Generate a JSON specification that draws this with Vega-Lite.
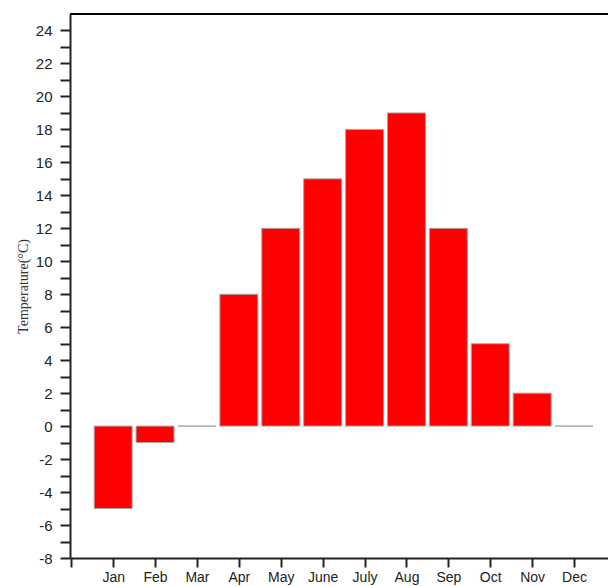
{
  "$schema": "https://vega.github.io/schema/vega-lite/v6.json",
  "width": 538,
  "height": 544,
  "autosize": {"type": "none"},
  "padding": {"left": 70, "top": 14, "right": 0, "bottom": 28},
  "background": "white",
  "config": {"view": {"stroke": null}, "font": "Liberation Sans"},
  "data": {"values": [
    {"m": 1, "name": "Jan", "t": -5},
    {"m": 2, "name": "Feb", "t": -1},
    {"m": 3, "name": "Mar", "t": 0},
    {"m": 4, "name": "Apr", "t": 8},
    {"m": 5, "name": "May", "t": 12},
    {"m": 6, "name": "June", "t": 15},
    {"m": 7, "name": "July", "t": 18},
    {"m": 8, "name": "Aug", "t": 19},
    {"m": 9, "name": "Sep", "t": 12},
    {"m": 10, "name": "Oct", "t": 5},
    {"m": 11, "name": "Nov", "t": 2},
    {"m": 12, "name": "Dec", "t": 0}
  ]},
  "layer": [
    {
      "mark": {"type": "bar", "width": 38, "color": "#ff0000", "stroke": "#a8a8a8", "strokeWidth": 1},
      "encoding": {
        "x": {
          "field": "m", "type": "quantitative",
          "scale": {"domain": [-0.03, 12.81], "nice": false, "zero": false, "padding": 0},
          "axis": {
            "values": [0, 1, 2, 3, 4, 5, 6, 7, 8, 9, 10, 11, 12],
            "labelExpr": "datum.value == 0 ? '' : ['Jan','Feb','Mar','Apr','May','June','July','Aug','Sep','Oct','Nov','Dec'][datum.value - 1]",
            "title": null, "grid": false,
            "domainColor": "#222", "domainWidth": 2,
            "tickColor": "#222", "tickWidth": 2, "tickSize": 9,
            "labelFontSize": 14, "labelColor": "#222", "labelPadding": 3, "labelFlush": false, "labelOverlap": false
          }
        },
        "y": {
          "field": "t", "type": "quantitative",
          "scale": {"domain": [-8, 25], "nice": false, "zero": false},
          "axis": {
            "values": [-8,-7,-6,-5,-4,-3,-2,-1,0,1,2,3,4,5,6,7,8,9,10,11,12,13,14,15,16,17,18,19,20,21,22,23,24],
            "labelExpr": "datum.value % 2 == 0 ? datum.value : ''",
            "title": "Temperature(°C)", "titleFont": "Liberation Serif", "titleFontSize": 14,
            "titleFontWeight": "normal", "titleColor": "#333", "titlePadding": 5,
            "grid": false,
            "domainColor": "#222", "domainWidth": 2,
            "tickColor": "#222", "tickWidth": 2, "tickSize": 10,
            "labelFontSize": 15, "labelColor": "#222", "labelPadding": 8, "labelFlush": false, "labelOverlap": false
          }
        }
      }
    },
    {
      "mark": {"type": "rule", "color": "black", "strokeWidth": 2},
      "encoding": {
        "y": {
          "datum": 25, "type": "quantitative",
          "axis": {
            "values": [-8,-7,-6,-5,-4,-3,-2,-1,0,1,2,3,4,5,6,7,8,9,10,11,12,13,14,15,16,17,18,19,20,21,22,23,24],
            "labelExpr": "datum.value % 2 == 0 ? datum.value : ''",
            "title": "Temperature(°C)", "titleFont": "Liberation Serif", "titleFontSize": 14,
            "titleFontWeight": "normal", "titleColor": "#333", "titlePadding": 5,
            "grid": false,
            "domainColor": "#222", "domainWidth": 2,
            "tickColor": "#222", "tickWidth": 2, "tickSize": 10,
            "labelFontSize": 15, "labelColor": "#222", "labelPadding": 8, "labelFlush": false, "labelOverlap": false
          }
        }
      }
    }
  ]
}
